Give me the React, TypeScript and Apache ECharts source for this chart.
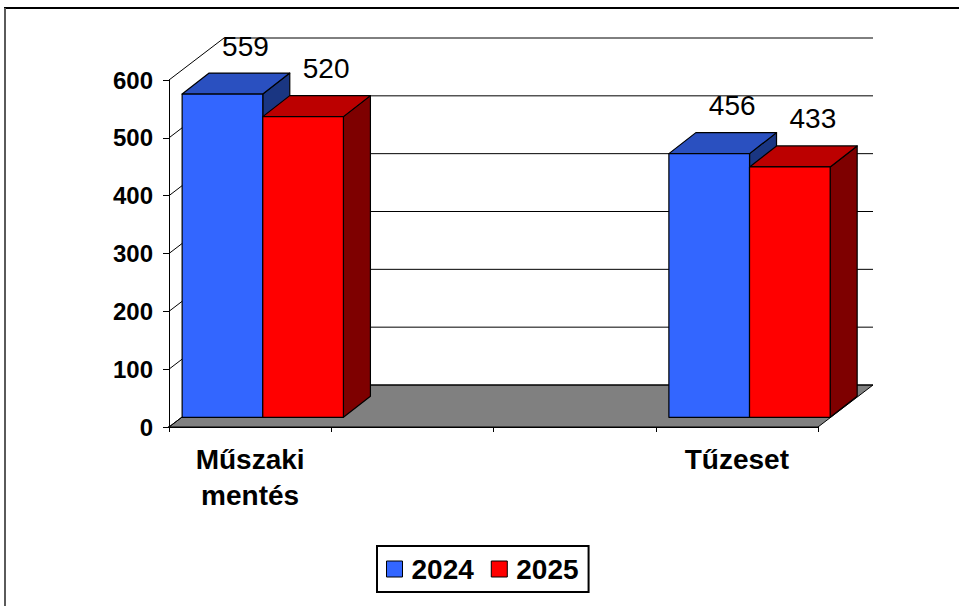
import React, { useEffect, useRef } from "react";
import * as echarts from "echarts";

const CATEGORIES = ["Műszaki\nmentés", "", "", "Tűzeset"];
const SERIES_NAMES = ["2024", "2025"];
const VALUES_2024 = [559, null, null, 456];
const VALUES_2025 = [520, null, null, 433];
const Y_TICKS = [0, 100, 200, 300, 400, 500, 600];

const FONT = "'Liberation Sans', Arial, sans-serif";
const DX = 55;
const DY = -42;
const FRONT = 0.23;
const BAR_DX = 27;
const BAR_DY = -21;
const BAR_RATIO = 0.497;

const COLORS = [
  { front: "#3366FF", top: "#2A50C0", side: "#1A3682" },
  { front: "#FF0000", top: "#BC0000", side: "#7E0000" },
];

function toData(values: (number | null)[]) {
  const out: number[][] = [];
  values.forEach((v, i) => {
    if (v !== null) out.push([i, v]);
  });
  return out;
}

export default function App() {
  const ref = useRef<HTMLDivElement>(null);
  useEffect(() => {
    if (!ref.current) return;
    const chart = echarts.init(ref.current, null, { renderer: "svg" });

    const wallsRender = (params: any, api: any) => {
      const cs = params.coordSys;
      const gx = cs.x;
      const gw = cs.width;
      const y0 = api.coord([0, 0])[1];
      const children: any[] = [];
      children.push({
        type: "polygon",
        shape: {
          points: [
            [gx, y0],
            [gx + gw, y0],
            [gx + gw + DX, y0 + DY],
            [gx + DX, y0 + DY],
          ],
        },
        style: { fill: "#808080", stroke: "#000", lineWidth: 1 },
      });
      Y_TICKS.forEach((t) => {
        const y = api.coord([0, t])[1];
        children.push({
          type: "polyline",
          shape: {
            points: [
              [gx, y],
              [gx + DX, y + DY],
              [gx + gw + DX, y + DY],
            ],
          },
          style: { stroke: "#000", lineWidth: 1, fill: null },
        });
      });
      return { type: "group", children };
    };

    const makeBarRender = (s: number) => (params: any, api: any) => {
      const cat = api.value(0);
      const val = api.value(1);
      const base = api.coord([cat, 0]);
      const top = api.coord([cat, val]);
      const slot = api.size([1, 0])[0];
      const bw = slot * BAR_RATIO;
      const x0 = base[0] + FRONT * DX + (s - 1) * bw;
      const yb = base[1] + FRONT * DY;
      const yt = top[1] + FRONT * DY;
      const c = COLORS[s];
      const stroke = { stroke: "#000", lineWidth: 1.2, lineJoin: "round" };
      return {
        type: "group",
        children: [
          {
            type: "polygon",
            shape: {
              points: [
                [x0 + bw, yb],
                [x0 + bw + BAR_DX, yb + BAR_DY],
                [x0 + bw + BAR_DX, yt + BAR_DY],
                [x0 + bw, yt],
              ],
            },
            style: { fill: c.side, ...stroke },
          },
          {
            type: "polygon",
            shape: {
              points: [
                [x0, yt],
                [x0 + bw, yt],
                [x0 + bw + BAR_DX, yt + BAR_DY],
                [x0 + BAR_DX, yt + BAR_DY],
              ],
            },
            style: { fill: c.top, ...stroke },
          },
          {
            type: "rect",
            shape: { x: x0, y: yt, width: bw, height: yb - yt },
            style: { fill: c.front, ...stroke },
          },
          {
            type: "text",
            x: x0 + BAR_DX + bw / 2 - 4,
            y: yt + BAR_DY - 27,
            style: {
              text: String(val),
              fill: "#000",
              font: `28px ${FONT}`,
              align: "center",
              verticalAlign: "middle",
            },
          },
        ],
      };
    };

    const option: any = {
      animation: false,
      backgroundColor: "#fff",
      textStyle: { fontFamily: FONT },
      grid: { left: 169, top: 80, right: 141, bottom: 179, containLabel: false },
      xAxis: {
        type: "category",
        data: CATEGORIES,
        boundaryGap: true,
        axisLine: { show: true, lineStyle: { color: "#000", width: 2 } },
        axisTick: { show: true, interval: 0, length: 5, lineStyle: { color: "#000", width: 1 } },
        axisLabel: {
          interval: 0,
          margin: 14,
          color: "#000",
          fontSize: 28,
          fontWeight: "bold",
          fontFamily: FONT,
          lineHeight: 36,
        },
        splitLine: { show: false },
      },
      yAxis: {
        type: "value",
        min: 0,
        max: 600,
        interval: 100,
        axisLine: { show: true, lineStyle: { color: "#000", width: 1 } },
        axisTick: { show: true, length: 6, lineStyle: { color: "#000", width: 1 } },
        axisLabel: {
          margin: 16,
          color: "#000",
          fontSize: 24,
          fontWeight: "bold",
          fontFamily: FONT,
        },
        splitLine: { show: false },
      },
      legend: {
        data: SERIES_NAMES,
        left: 377,
        top: 546,
        padding: [9, 10, 9, 9],
        borderColor: "#000",
        borderWidth: 2,
        itemWidth: 16,
        itemHeight: 16,
        itemGap: 17,
        icon: "rect",
        itemStyle: { borderColor: "#000", borderWidth: 1 },
        textStyle: {
          color: "#000",
          fontSize: 28,
          fontWeight: "bold",
          fontFamily: FONT,
          padding: [0, 0, 0, 4],
        },
      },
      graphic: [
        {
          type: "line",
          shape: { x1: 4, y1: 8, x2: 959, y2: 8 },
          style: { stroke: "#000", lineWidth: 2 },
        },
        {
          type: "line",
          shape: { x1: 5, y1: 8, x2: 5, y2: 606 },
          style: { stroke: "#5a5a5a", lineWidth: 2 },
        },
      ],
      series: [
        {
          type: "custom",
          name: "walls",
          clip: false,
          silent: true,
          data: [[0, 0]],
          renderItem: wallsRender,
          z: 1,
        },
        {
          type: "custom",
          name: SERIES_NAMES[0],
          clip: false,
          itemStyle: { color: COLORS[0].front, borderColor: "#000", borderWidth: 1 },
          data: toData(VALUES_2024),
          renderItem: makeBarRender(0),
          z: 2,
        },
        {
          type: "custom",
          name: SERIES_NAMES[1],
          clip: false,
          itemStyle: { color: COLORS[1].front, borderColor: "#000", borderWidth: 1 },
          data: toData(VALUES_2025),
          renderItem: makeBarRender(1),
          z: 3,
        },
      ],
    };
    chart.setOption(option);
    return () => chart.dispose();
  }, []);

  return (
    <div
      ref={ref}
      style={{ position: "fixed", left: 0, top: 0, width: 959, height: 606 }}
    />
  );
}
